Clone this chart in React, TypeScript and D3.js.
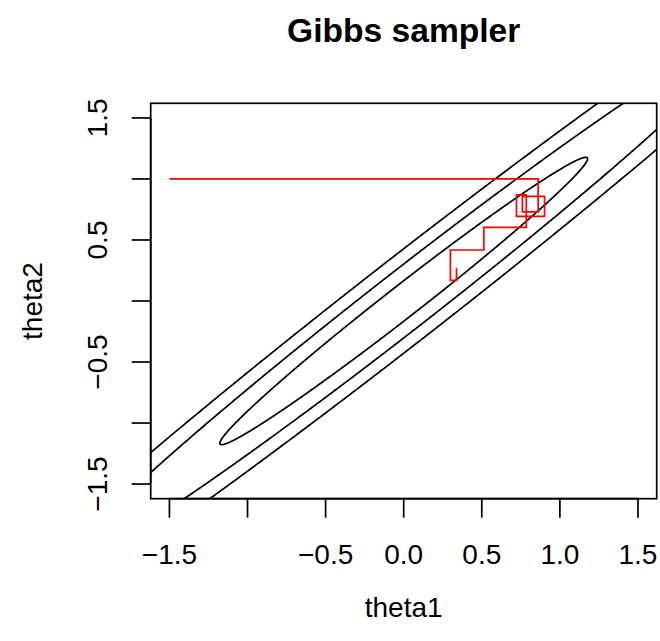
import React from 'react';
import * as d3 from 'd3';

// ---- data ----
const xTicks = [-1.5, -1.0, -0.5, 0.0, 0.5, 1.0, 1.5];
const xTickLabels = ['\u22121.5', '', '\u22120.5', '0.0', '0.5', '1.0', '1.5'];
const yTicks = [-1.5, -1.0, -0.5, 0.0, 0.5, 1.0, 1.5];
const yTickLabels = ['\u22121.5', '', '\u22120.5', '', '0.5', '', '1.5'];
const dataRange = [-1.5, 1.5];
const rho = 0.99;
const contourLevels = [1.386, 4.605, 9.21]; // Mahalanobis q of the drawn contours
const theta1Draws = [-1.5, 0.861, 0.76, 0.902, 0.722, 0.785, 0.513, 0.299, 0.338];
const theta2Draws = [1.0, 0.73, 0.858, 0.694, 0.869, 0.603, 0.418, 0.169, 0.27];

const W = 660;
const H = 641;
const plotLeft = 150.7;
const plotRight = 656.7;
const plotTop = 103.3;
const plotBottom = 498.7;
const FONT = '"Liberation Sans", Arial, Helvetica, sans-serif';
const fs = 28;

export default function App() {
  const r = dataRange[1] - dataRange[0];
  const dom: [number, number] = [dataRange[0] - 0.04 * r, dataRange[1] + 0.04 * r];
  const x = d3.scaleLinear().domain(dom).range([plotLeft, plotRight]);
  const y = d3.scaleLinear().domain(dom).range([plotBottom, plotTop]);

  const line = d3
    .line<[number, number]>()
    .x((d) => x(d[0]))
    .y((d) => y(d[1]));

  const a = Math.sqrt(1 + rho);
  const b = Math.sqrt(1 - rho);
  const ts = d3.range(0, 2 * Math.PI + 1e-9, Math.PI / 720);
  const contours = contourLevels.map((q) => {
    const s = Math.sqrt(q) / Math.SQRT2;
    const pts: [number, number][] = ts.map((t) => [
      s * (a * Math.cos(t) + b * Math.sin(t)),
      s * (a * Math.cos(t) - b * Math.sin(t)),
    ]);
    return line(pts) + 'Z';
  });

  const path: [number, number][] = [[theta1Draws[0], theta2Draws[0]]];
  for (let i = 1; i < theta1Draws.length; i++) {
    path.push([theta1Draws[i], theta2Draws[i - 1]]);
    path.push([theta1Draws[i], theta2Draws[i]]);
  }

  const tickLen = 19;
  const lw = 1.7;

  return (
    <svg
      width={W}
      height={H}
      style={{ position: 'absolute', left: 0, top: 0, background: '#fff' }}
      fontFamily={FONT}
    >
      <defs>
        <clipPath id="plotClip">
          <rect x={plotLeft} y={plotTop} width={plotRight - plotLeft} height={plotBottom - plotTop} />
        </clipPath>
      </defs>
      <rect x={0} y={0} width={W} height={H} fill="#fff" />
      <g clipPath="url(#plotClip)">
        {contours.map((d, i) => (
          <path key={i} d={d} fill="none" stroke="#000" strokeWidth={lw} />
        ))}
        <path d={line(path) || ''} fill="none" stroke="#ff0000" strokeWidth={lw} />
      </g>
      <rect
        x={plotLeft}
        y={plotTop}
        width={plotRight - plotLeft}
        height={plotBottom - plotTop}
        fill="none"
        stroke="#000"
        strokeWidth={lw}
      />
      {/* x axis */}
      <line x1={x(xTicks[0])} x2={x(xTicks[xTicks.length - 1])} y1={plotBottom} y2={plotBottom} stroke="#000" strokeWidth={lw} />
      {xTicks.map((t, i) => (
        <g key={'xt' + i}>
          <line x1={x(t)} x2={x(t)} y1={plotBottom} y2={plotBottom + tickLen} stroke="#000" strokeWidth={lw} />
          <text x={x(t)} y={564} fontSize={fs} textAnchor="middle">
            {xTickLabels[i]}
          </text>
        </g>
      ))}
      {/* y axis */}
      <line x1={plotLeft} x2={plotLeft} y1={y(yTicks[0])} y2={y(yTicks[yTicks.length - 1])} stroke="#000" strokeWidth={lw} />
      {yTicks.map((t, i) => (
        <g key={'yt' + i}>
          <line x1={plotLeft} x2={plotLeft - tickLen} y1={y(t)} y2={y(t)} stroke="#000" strokeWidth={lw} />
          <text
            transform={`translate(106.7,${y(t)}) rotate(-90)`}
            fontSize={fs}
            textAnchor="middle"
          >
            {yTickLabels[i]}
          </text>
        </g>
      ))}
      <text x={(plotLeft + plotRight) / 2} y={617} fontSize={fs} textAnchor="middle">
        theta1
      </text>
      <text transform={`translate(41.7,${(plotTop + plotBottom) / 2}) rotate(-90)`} fontSize={fs} textAnchor="middle">
        theta2
      </text>
      <text
        x={(plotLeft + plotRight) / 2}
        y={42}
        fontSize={fs * 1.2}
        fontWeight="bold"
        textAnchor="middle"
      >
        Gibbs sampler
      </text>
    </svg>
  );
}
